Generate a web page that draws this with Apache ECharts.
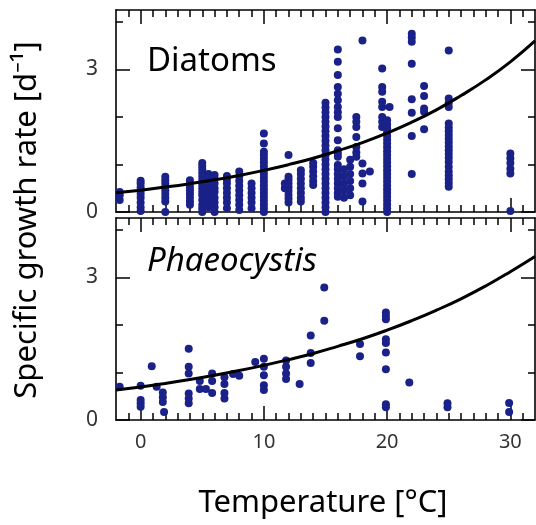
<!DOCTYPE html>
<html>
<head>
<meta charset="utf-8">
<script src="https://cdn.jsdelivr.net/npm/echarts@6/dist/echarts.min.js"></script>
<style>html,body{margin:0;padding:0;background:#fff;}#chart{width:536px;height:525px;}</style>
</head>
<body>
<div id="chart"></div>
<script>
// ---- data ----
const panelNames = ['Diatoms', 'Phaeocystis'];
const xMajorTicks = [0, 10, 20, 30];
const yMajorTicks = [0, 3];
const yMinorTicks = [1, 2, 4];

const diatomPoints = [
  [-1.7,0.25],[-1.7,0.35],[-1.7,0.42],
  [0,0.02],[0,0.1],[0,0.2],[0,0.3],[0,0.38],[0,0.45],[0,0.52],[0,0.6],[0,0.66],
  [2,0],[2,0.22],[2,0.3],[2,0.38],[2,0.45],[2,0.52],[2,0.6],[2,0.67],[2,0.74],
  [4,0.15],[4,0.22],[4,0.3],[4,0.38],[4,0.45],[4,0.52],[4,0.6],[4,0.67],
  [5,0],[5,0.08],[5,0.15],[5,0.25],[5,0.35],[5,0.42],[5,0.5],[5,0.58],[5,0.66],[5,0.74],[5,0.82],[5,0.9],[5,0.97],[5,1.03],
  [5.5,0.1],[5.5,0.2],[5.5,0.3],[5.5,0.4],[5.5,0.5],[5.5,0.6],[5.5,0.7],[5.5,0.8],
  [6,0],[6,0.1],[6,0.2],[6,0.3],[6,0.42],[6,0.5],[6,0.6],[6,0.7],[6,0.78],
  [7,0.08],[7,0.2],[7,0.3],[7,0.4],[7,0.5],[7,0.6],[7,0.68],[7,0.76],
  [8,0.04],[8,0.15],[8,0.25],[8,0.35],[8,0.45],[8,0.55],[8,0.65],[8,0.75],[8,0.85],
  [9,0.08],[9,0.2],[9,0.3],[9,0.4],[9,0.5],[9,0.6],
  [10,0],[10,0.08],[10,0.16],[10,0.24],[10,0.32],[10,0.4],[10,0.48],[10,0.56],[10,0.64],[10,0.72],[10,0.8],[10,0.88],[10,0.96],[10,1.04],[10,1.12],[10,1.2],[10,1.27],[10,1.44],[10,1.65],
  [11.7,0.5],[11.7,0.6],
  [12,0.2],[12,0.28],[12,0.36],[12,0.44],[12,0.52],[12,0.6],[12,0.68],[12,0.74],[12,1.2],
  [13,0.22],[13,0.3],[13,0.4],[13,0.5],[13,0.6],[13,0.7],[13,0.8],[13,0.88],
  [14,0.57],[14,0.65],[14,0.75],[14,0.85],[14,0.95],[14,1.03],
  [15,0],[15,0.1],[15,0.2],[15,0.3],[15,0.4],[15,0.5],[15,0.6],[15,0.7],[15,0.8],[15,0.9],[15,1.0],[15,1.1],[15,1.2],[15,1.3],[15,1.4],[15,1.5],[15,1.6],[15,1.7],[15,1.8],[15,1.9],[15,2.0],[15,2.1],[15,2.2],[15,2.3],
  [16,3.42],[16,3.16],[16,2.88],[16,2.63],[16,2.49],[16,2.35],[16,2.21],[16,2.1],[16,2.0],[16,1.76],[16,1.51],[16,1.3],[16,1.23],[16,1.16],[16,0.99],[16,0.9],[16,0.8],[16,0.7],[16,0.6],[16,0.5],[16,0.4],[16,0.32],
  [16.5,0.3],[16.5,0.45],[16.5,0.6],[16.5,0.75],[16.5,0.9],
  [17,0.35],[17,0.5],[17,0.65],[17,0.8],[17,0.95],[17,1.1],
  [17.5,2.0],[17.5,1.9],[17.5,1.79],[17.5,1.58],[17.5,1.37],[17.5,1.25],[17.5,1.16],
  [18,3.61],[18,1.02],[18,0.81],[18,0.6],[18,0.22],
  [18.6,0.85],
  [19.6,3.02],[19.6,2.63],[19.6,2.53],[19.6,2.32],[19.6,2.21],[19.6,2.0],[19.6,1.9],[19.6,1.79],
  [20,0],[20,0.08],[20,0.16],[20,0.24],[20,0.32],[20,0.4],[20,0.48],[20,0.56],[20,0.64],[20,0.72],[20,0.8],[20,0.88],[20,0.96],[20,1.04],[20,1.12],[20,1.2],[20,1.28],[20,1.36],[20,1.44],[20,1.52],[20,1.6],[20,1.68],[20,1.76],[20,1.84],[20,1.93],
  [20.2,2.21],
  [22,3.75],[22,3.67],[22,3.58],[22,3.12],[22,2.37],[22,2.09],[22,1.6],[22,0.8],
  [23,2.65],[23,2.44],[23,2.18],[23,2.11],[23,1.74],
  [25,3.4],[25,2.39],[25,2.3],[25,2.21],[25,1.86],[25,1.78],[25,1.7],[25,1.62],[25,1.54],[25,1.46],[25,1.38],[25,1.3],[25,1.22],[25,1.14],[25,1.05],[25,0.95],[25,0.85],[25,0.77],[25,0.69],[25,0.61],[25,0.53],
  [30,1.23],[30,1.13],[30,1.03],[30,0.91],[30,0.81],[30,0.02]
];

const phaeoPoints = [
  [-1.7,0.70],
  [0,0.72],[0,0.42],[0,0.35],[0,0.28],
  [0.9,1.13],[1.3,0.7],
  [1.8,0.58],[1.8,0.48],[1.8,0.38],[1.9,0.17],
  [3.9,1.5],[3.9,1.12],[3.9,0.98],[3.9,0.56],[3.9,0.45],[3.9,0.35],
  [4.8,0.82],[4.8,0.65],[5.3,0.65],
  [5.8,0.98],[5.8,0.82],[5.8,0.57],
  [6.8,0.9],[6.8,0.76],[6.8,0.57],[6.8,0.45],
  [7.5,0.97],[8,0.93],[9.3,1.22],
  [10,1.29],[10,1.12],[10,0.94],[10,0.73],[10,0.63],
  [11.8,1.25],[11.8,1.12],[11.8,0.98],[11.8,0.86],
  [12.9,0.76],
  [13.8,1.78],[13.8,1.41],[13.8,1.2],
  [14.9,2.79],[14.9,2.09],
  [17.8,1.6],[17.8,1.34],
  [19.9,2.26],[19.9,2.19],[19.9,2.12],[19.9,1.7],[19.9,1.62],[19.9,1.42],[19.9,1.07],[19.9,0.33],[19.9,0.27],
  [21.8,0.79],
  [24.9,0.35],[24.9,0.27],
  [29.9,0.36],[29.9,0.17]
];

const fitTemps = [-2,0,2,4,6,8,10,12,14,16,18,20,22,24,26,28,30,32];
const diatomFit = [0.405,0.46,0.524,0.596,0.677,0.77,0.876,0.996,1.13,1.29,1.46,1.66,1.89,2.15,2.45,2.78,3.16,3.60];
const phaeoFit  = [0.63,0.696,0.77,0.85,0.94,1.04,1.15,1.27,1.40,1.55,1.71,1.89,2.09,2.31,2.55,2.82,3.12,3.44];

// ---- chart ----
const xMin = -2, xMax = 32, yMin = 0, yMax = 4.25;
const xMinorTicks = [];
for (let t = -1; t <= 31; t++) if (xMajorTicks.indexOf(t) < 0) xMinorTicks.push(t);

const FONT = 'Noto Sans';
const dotColor = '#1a2188';
const lineCol = '#000';

const grids = [
  {left:116, top:10, width:419, height:202},
  {left:116, top:218, width:419, height:202}
];

const xAxes = [], yAxes = [], series = [];
const fits = [diatomFit, phaeoFit];
const pts = [diatomPoints, phaeoPoints];

grids.forEach((g, gi) => {
  const xBase = xAxes.length, yBase = yAxes.length;
  ['bottom','top'].forEach(pos => {
    xAxes.push({gridIndex:gi, type:'value', min:xMin, max:xMax, position:pos,
      axisLine:{show:true, onZero:false, lineStyle:{color:lineCol, width:1.6}},
      axisTick:{show:true, inside:true, length:14, customValues:xMajorTicks, lineStyle:{color:lineCol, width:1.5}},
      axisLabel:{show:(gi===1 && pos==='bottom'), customValues:xMajorTicks, fontFamily:FONT, fontSize:20, color:'#333', margin:12},
      splitLine:{show:false}});
    xAxes.push({gridIndex:gi, type:'value', min:xMin, max:xMax, position:pos,
      axisLine:{show:false, onZero:false},
      axisTick:{show:true, inside:true, length:7, customValues:xMinorTicks, lineStyle:{color:lineCol, width:1.5}},
      axisLabel:{show:false, customValues:xMinorTicks},
      splitLine:{show:false}});
  });
  ['left','right'].forEach(pos => {
    yAxes.push({gridIndex:gi, type:'value', min:yMin, max:yMax, position:pos,
      axisLine:{show:true, onZero:false, lineStyle:{color:lineCol, width:1.6}},
      axisTick:{show:true, inside:true, length:14, customValues:yMajorTicks, lineStyle:{color:lineCol, width:1.5}},
      axisLabel:{show:(pos==='left'), customValues:yMajorTicks, fontFamily:FONT, fontSize:21, color:'#333', margin:18},
      splitLine:{show:false}});
    yAxes.push({gridIndex:gi, type:'value', min:yMin, max:yMax, position:pos,
      axisLine:{show:false, onZero:false},
      axisTick:{show:true, inside:true, length:7, customValues:yMinorTicks, lineStyle:{color:lineCol, width:1.5}},
      axisLabel:{show:false, customValues:yMinorTicks},
      splitLine:{show:false}});
  });
  series.push({type:'scatter', name:panelNames[gi]+' data', xAxisIndex:xBase, yAxisIndex:yBase,
    data:pts[gi], symbol:'circle', symbolSize:8, itemStyle:{color:dotColor, opacity:1}, clip:true, silent:true, z:2});
  series.push({type:'line', name:panelNames[gi]+' fit', xAxisIndex:xBase, yAxisIndex:yBase,
    data:fitTemps.map((t,i)=>[t, fits[gi][i]]), smooth:true, showSymbol:false, symbol:'none',
    lineStyle:{color:'#000', width:3}, clip:true, silent:true, z:3});
});

const chart = echarts.init(document.getElementById('chart'), null, {renderer:'canvas'});
chart.setOption({
  animation:false,
  backgroundColor:'#fff',
  grid:grids,
  xAxis:xAxes,
  yAxis:yAxes,
  series:series,
  graphic:[
    {type:'text', left:147, top:45, style:{text:panelNames[0], font:'33px "'+FONT+'"', fill:'#000'}},
    {type:'text', left:147, top:245, style:{text:panelNames[1], font:'italic 33px "'+FONT+'"', fill:'#000'}},
    {type:'text', x:27, y:220, rotation:Math.PI/2,
      style:{text:'Specific growth rate [d⁻¹]', font:'31px "'+FONT+'"', fill:'#000', align:'center', verticalAlign:'middle'}},
    {type:'text', x:323, y:503,
      style:{text:'Temperature [°C]', font:'31px "'+FONT+'"', fill:'#000', align:'center', verticalAlign:'middle'}}
  ]
});
</script>
</body>
</html>
